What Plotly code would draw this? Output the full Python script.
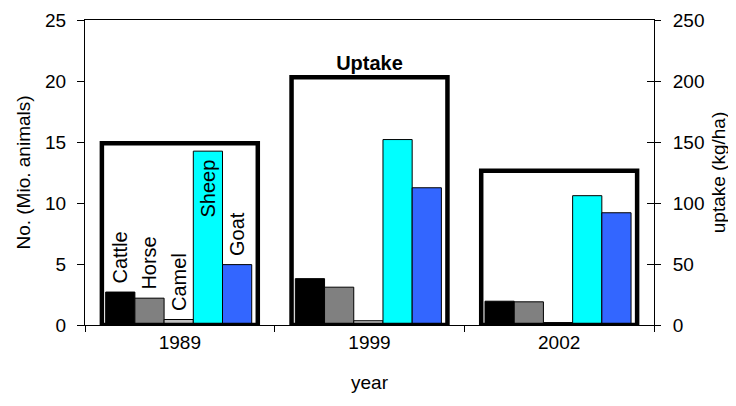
import plotly.graph_objects as go

years = ["1989", "1999", "2002"]
cattle = [2.7, 3.8, 1.95]
horse = [2.2, 3.1, 1.9]
camel = [0.45, 0.35, 0.2]
sheep = [14.25, 15.2, 10.6]
goat = [4.95, 11.25, 9.2]
uptake = [149, 203, 126.5]

species = ["Cattle", "Horse", "Camel", "Sheep", "Goat"]
values = [cattle, horse, camel, sheep, goat]
colors = ["#000000", "#808080", "#C0C0C0", "#00FFFF", "#3366FF"]

FONT = "Liberation Sans, Arial, sans-serif"
FS = 19
LFS = 20
NB = "\u00a0"

fig = go.Figure()

# uptake boxes (secondary axis)
fig.add_trace(go.Bar(
    x=years, y=uptake, yaxis="y2", width=0.822, offset=-0.411,
    marker=dict(color="rgba(0,0,0,0)", line=dict(color="black", width=4.5)),
    text=["", "Uptake", ""], textposition="outside",
    textfont=dict(family=FONT, size=LFS, color="black", weight="bold"),
    constraintext="none", cliponaxis=False, showlegend=False, hoverinfo="skip",
))

bw = 0.154
start = -0.391
for i, (name, vals, col) in enumerate(zip(species, values, colors)):
    inside = name == "Sheep"
    label = (name + NB) if inside else (NB + name)
    fig.add_trace(go.Bar(
        x=years, y=vals, name=name, yaxis="y",
        width=bw, offset=start + i * bw,
        marker=dict(color=col, line=dict(color="black", width=1)),
        text=[label, "", ""],
        textposition="inside" if inside else "outside",
        insidetextanchor="end", textangle=-90,
        textfont=dict(family=FONT, size=LFS, color="black"),
        constraintext="none", cliponaxis=False, showlegend=False,
    ))

# page body has an 8px margin, so the figure is sized/offset to compensate
fig.update_layout(
    width=728, height=398,
    margin=dict(l=77, r=82, t=12, b=81, autoexpand=False),
    paper_bgcolor="white", plot_bgcolor="white",
    font=dict(family=FONT, size=FS, color="black"),
    showlegend=False, barmode="overlay",
    xaxis=dict(
        type="category", range=[-0.5, 2.5], tickson="boundaries",
        ticks="outside", ticklen=6, tickcolor="black", automargin=False,
        showline=True, linecolor="black", linewidth=1, mirror=True,
        showgrid=False, tickfont=dict(size=FS),
        title=dict(text="year", font=dict(size=FS), standoff=23),
    ),
    yaxis=dict(
        range=[0, 25], dtick=5, side="left", automargin=False,
        ticks="outside", ticklen=7, tickcolor="black", ticklabelstandoff=7,
        showline=True, linecolor="black", linewidth=1,
        showgrid=False, zeroline=False, tickfont=dict(size=FS),
        title=dict(text="No. (Mio. animals)", font=dict(size=FS), standoff=9),
    ),
    yaxis2=dict(
        range=[0, 250], dtick=50, side="right", overlaying="y", automargin=False,
        ticks="outside", ticklen=6, tickcolor="black", ticklabelstandoff=8,
        showline=True, linecolor="black", linewidth=1,
        showgrid=False, zeroline=False, tickfont=dict(size=FS),
        title=dict(text="uptake (kg/ha)", font=dict(size=FS), standoff=8),
    ),
    yaxis3=dict(
        range=[0, 250], dtick=50, side="right", overlaying="y", automargin=False,
        ticks="inside", ticklen=7, tickcolor="black",
        showticklabels=False, showline=False, showgrid=False, zeroline=False,
    ),
)

fig.add_trace(go.Scatter(x=years, y=[None, None, None], yaxis="y3",
                         mode="markers", showlegend=False, hoverinfo="skip"))

fig.write_html("out.html")
